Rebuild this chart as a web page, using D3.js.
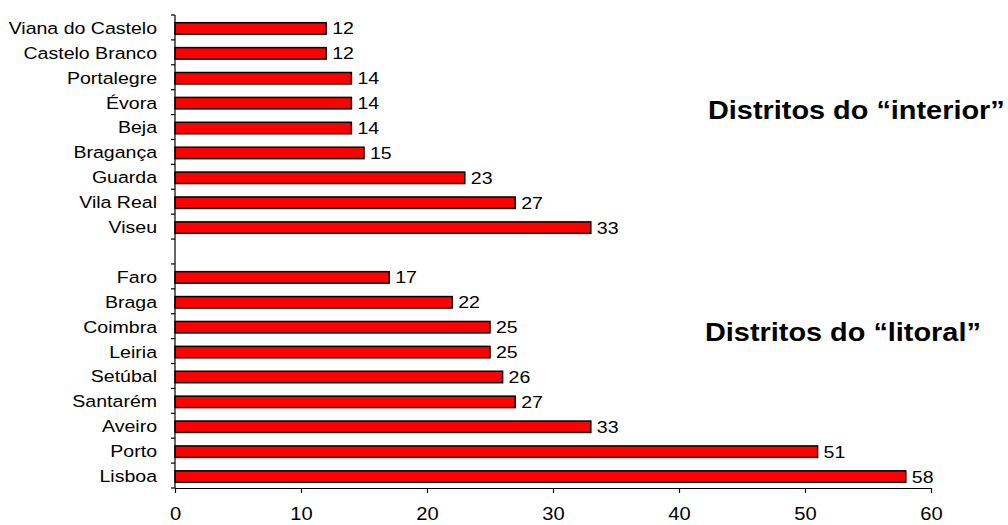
<!DOCTYPE html>
<html>
<head>
<meta charset="utf-8">
<script src="https://cdn.jsdelivr.net/npm/d3@7"></script>
<style>
  html, body { margin: 0; padding: 0; background: #fff; }
  svg { display: block; }
  text { font-family: "Liberation Sans", Arial, sans-serif; fill: #000; }
</style>
</head>
<body>
<svg id="chart" width="1008" height="525"></svg>
<script>
// Districts listed top to bottom, two groups separated by a blank row
const interiorDistricts = ["Viana do Castelo", "Castelo Branco", "Portalegre", "Évora", "Beja", "Bragança", "Guarda", "Vila Real", "Viseu"];
const interiorValues    = [12, 12, 14, 14, 14, 15, 23, 27, 33];
const litoralDistricts  = ["Faro", "Braga", "Coimbra", "Leiria", "Setúbal", "Santarém", "Aveiro", "Porto", "Lisboa"];
const litoralValues     = [17, 22, 25, 25, 26, 27, 33, 51, 58];
const xTicks = [0, 10, 20, 30, 40, 50, 60];
const groupLabels = ["Distritos do \u201cinterior\u201d", "Distritos do \u201clitoral\u201d"];

const SPACER = "__gap__";
const rows = [
  ...interiorDistricts.map((name, i) => ({ name, value: interiorValues[i] })),
  { name: SPACER, value: null },
  ...litoralDistricts.map((name, i) => ({ name, value: litoralValues[i] }))
];

const svg = d3.select("#chart");
const plotLeft = 175, plotRight = 931, plotTop = 15, plotBottom = 488;
const stretch = 1.15;   // slightly wide lettering

const x = d3.scaleLinear().domain([0, 60]).range([plotLeft, plotRight]);
const y = d3.scaleBand()
  .domain(rows.map(d => d.name))
  .range([plotTop, plotBottom])
  .paddingInner(0.54)
  .paddingOuter(0.27);

// Bars
svg.append("g")
  .selectAll("rect")
  .data(rows.filter(d => d.value !== null))
  .join("rect")
  .attr("x", x(0))
  .attr("y", d => y(d.name) + 1)
  .attr("width", d => x(d.value) - x(0))
  .attr("height", y.bandwidth())
  .attr("fill", "#ff0000")
  .attr("stroke", "#000")
  .attr("stroke-width", 1.5);

// Value labels
svg.append("g")
  .selectAll("text")
  .data(rows.filter(d => d.value !== null))
  .join("text")
  .attr("transform", d => `translate(${x(d.value) + 6},${y(d.name) + y.bandwidth() / 2 + 1}) scale(${stretch},1)`)
  .attr("dy", "0.35em")
  .style("font-size", "17px")
  .text(d => d.value);

// X axis
const xAxis = svg.append("g")
  .attr("transform", `translate(0,${plotBottom})`)
  .call(d3.axisBottom(x).tickValues(xTicks).tickSize(5).tickPadding(15).tickSizeOuter(0));
xAxis.select(".domain").attr("stroke", "#000").attr("stroke-width", 1.2);
xAxis.selectAll(".tick line").attr("stroke", "#000").attr("stroke-width", 1.2);
xAxis.selectAll(".tick text")
  .style("font-size", "17.5px")
  .attr("transform", `scale(${stretch},1)`);
xAxis.attr("font-family", null).attr("font-size", null);

// Y axis: category labels centred on bands, tick marks on band boundaries
const yAxis = svg.append("g")
  .attr("transform", `translate(${plotLeft},0)`)
  .call(d3.axisLeft(y).tickSize(0).tickPadding(18).tickFormat(d => d === SPACER ? "" : d));
yAxis.attr("font-family", null).attr("font-size", null);
yAxis.select(".domain").remove();
yAxis.selectAll(".tick")
  .attr("transform", d => `translate(0,${y(d) + y.bandwidth() / 2 + 1})`);
yAxis.selectAll(".tick text")
  .style("font-size", "17px")
  .attr("x", -18 / stretch)
  .attr("transform", `scale(${stretch},1)`);

const boundaries = d3.range(rows.length + 1).map(i => plotTop + i * y.step());
svg.append("g")
  .selectAll("line")
  .data(boundaries)
  .join("line")
  .attr("x1", plotLeft - 4).attr("x2", plotLeft)
  .attr("y1", d => d).attr("y2", d => d)
  .attr("stroke", "#000").attr("stroke-width", 1.2);
svg.append("line")
  .attr("x1", plotLeft).attr("x2", plotLeft)
  .attr("y1", plotTop).attr("y2", plotBottom)
  .attr("stroke", "#000").attr("stroke-width", 1.2);

// Group annotations
const groupPos = [[708, 119], [705, 341]];
svg.append("g")
  .selectAll("text")
  .data(groupLabels)
  .join("text")
  .attr("transform", (d, i) => `translate(${groupPos[i][0]},${groupPos[i][1]}) scale(1.155,1)`)
  .style("font-size", "25px")
  .style("font-weight", "bold")
  .text(d => d);
</script>
</body>
</html>
